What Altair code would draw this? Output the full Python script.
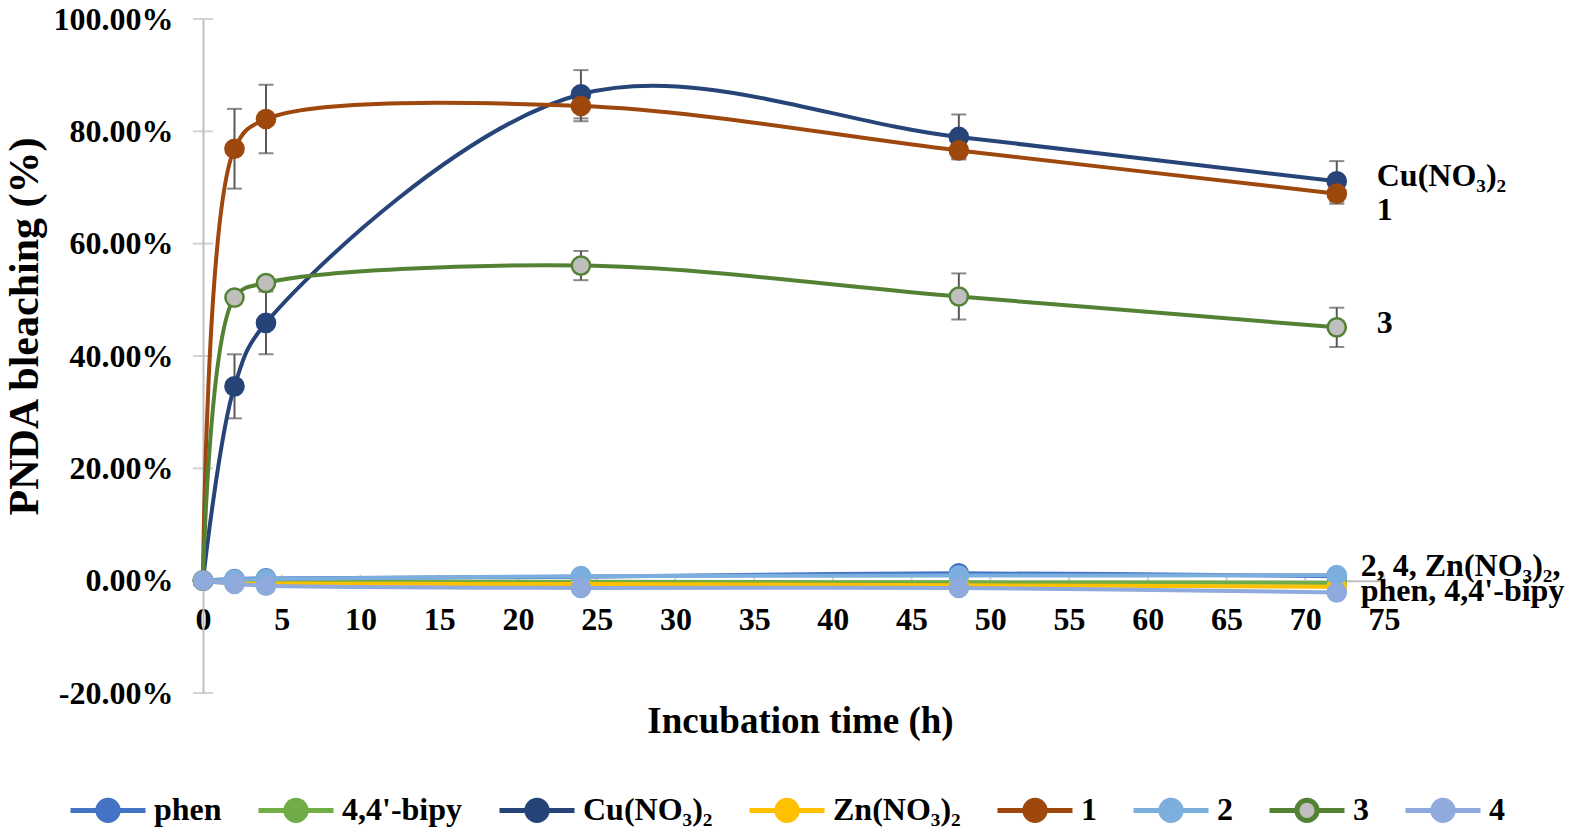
import altair as alt
import pandas as pd

# ---------------- data ----------------
times = [0, 2, 4, 24, 48, 72]
series_names = ["phen", "4,4'-bipy", "Cu(NO₃)₂", "Zn(NO₃)₂", "1", "2", "3", "4"]

phen = [0, 0.3, 0.4, 0.7, 1.3, 0.8]
bipy = [0, 0.0, -0.1, -0.2, -0.3, -0.4]
cu = [0, 34.6, 45.9, 86.6, 79.0, 71.1]
zn = [0, -0.4, -0.5, -0.6, -0.8, -1.1]
c1 = [0, 76.9, 82.2, 84.5, 76.6, 68.9]
c2 = [0, 0.2, 0.3, 0.8, 0.9, 1.0]
c3 = [0, 50.4, 53.0, 56.1, 50.6, 45.1]
c4 = [0, -0.6, -0.9, -1.3, -1.3, -2.1]

cu_err = [0, 5.7, 5.6, 4.3, 4.0, 3.6]
c1_err = [0, 7.1, 6.1, 2.7, 1.4, 1.8]
c3_err = [0, 0.6, 0.6, 2.6, 4.1, 3.5]

line_colors = ["#4472C4", "#70AD47", "#264478", "#FFC000", "#9E480E", "#7CAFDD", "#548235", "#8FAADC"]
fill_colors = ["#4472C4", "#70AD47", "#264478", "#FFC000", "#9E480E", "#7CAFDD", "#BFBFBF", "#8FAADC"]

x_ticks = list(range(0, 80, 5))
y_ticks = [-20, 0, 20, 40, 60, 80, 100]

ann_labels = ["Cu(NO₃)₂", "1", "3"]
ann_y = [72.0, 66.0, 45.8]
ann2_labels = ["2, 4, Zn(NO₃)₂,\nphen, 4,4'-bipy"]
ann2_y = [2.6]

# ---------------- tables ----------------
all_vals = [phen, bipy, cu, zn, c1, c2, c3, c4]
rows = []
for name, vals in zip(series_names, all_vals):
    for t, v in zip(times, vals):
        rows.append({"series": name, "t": t, "v": v})
df = pd.DataFrame(rows)

err_rows = []
for name, vals, errs in [("Cu(NO₃)₂", cu, cu_err), ("1", c1, c1_err), ("3", c3, c3_err)]:
    for t, v, e in zip(times, vals, errs):
        if e > 0:
            err_rows.append({"series": name, "t": t, "lo": v - e, "hi": v + e})
err_df = pd.DataFrame(err_rows)

ytick_df = pd.DataFrame({"t": [0] * len(y_ticks), "v": y_ticks})
xtick_df = pd.DataFrame({"t": [x for x in x_ticks if x > 0], "v": [0] * (len(x_ticks) - 1)})
ann_df = pd.DataFrame({"t": [72] * len(ann_labels), "v": ann_y, "label": ann_labels})
ann2_df = pd.DataFrame({"t": [72] * len(ann2_labels), "v": ann2_y, "label": ann2_labels})

# ---------------- styling ----------------
FONT = "Liberation Serif"
GRAY = "#BFBFBF"
W, H = 1181, 674

X_AXIS = alt.Axis(
    values=x_ticks, grid=False, ticks=False, tickSize=0,
    domainColor=GRAY, domainWidth=2,
    labelFont=FONT, labelFontSize=32, labelFontWeight="bold", labelColor="black",
    labelPadding=24, labelFlush=False, labelOverlap=False,
    offset=-H / 6.0,
    title="Incubation time (h)", titleFont=FONT, titleFontSize=37, titleFontWeight="bold",
    titleColor="black", titleX=597, titleY=152, titleBaseline="alphabetic", titleAlign="center",
)
Y_AXIS = alt.Axis(
    values=y_ticks, grid=False, ticks=False, tickSize=0,
    domainColor=GRAY, domainWidth=2,
    labelExpr="(datum.value < 0 ? '-' : '') + format(abs(datum.value), '.2f') + '%'",
    labelFont=FONT, labelFontSize=32, labelFontWeight="bold", labelColor="black",
    labelPadding=30, labelOverlap=False,
    title="PNDA bleaching (%)", titleFont=FONT, titleFontSize=42, titleFontWeight="bold",
    titleColor="black", titleX=-166, titleY=307, titleBaseline="alphabetic", titleAngle=270,
    titleAlign="center",
)
XS = alt.Scale(domain=[0, 75], nice=False, zero=False)
YS = alt.Scale(domain=[-20, 100], nice=False, zero=False)

SYMBOL = "M-1,0L-0.27,0M0.27,0L1,0M-0.27,0A0.27,0.27 0 1,0 0.27,0A0.27,0.27 0 1,0 -0.27,0Z"
LEG = alt.Legend(
    title=None, orient="none", legendX=-135, legendY=751, direction="horizontal",
    symbolType=SYMBOL, symbolSize=5625, symbolStrokeWidth=5, symbolOpacity=1,
    labelFont=FONT, labelFontSize=32, labelFontWeight="bold", labelColor="black",
    columnPadding=26, labelOffset=6, padding=0, labelLimit=0,
)
STROKE = alt.Stroke("series:N", scale=alt.Scale(domain=series_names, range=line_colors), legend=LEG)
FILL = alt.Fill("series:N", scale=alt.Scale(domain=series_names, range=fill_colors), legend=LEG)


def xenc(field="t"):
    return alt.X(f"{field}:Q", scale=XS, axis=X_AXIS)


def yenc(field="v"):
    return alt.Y(f"{field}:Q", scale=YS, axis=Y_AXIS)


layers = []

# axis decoration ticks (crossing ticks like the original)
layers.append(
    alt.Chart(ytick_df).mark_tick(orient="horizontal", size=20, thickness=2, color=GRAY)
    .encode(x=xenc(), y=yenc())
)
layers.append(
    alt.Chart(xtick_df).mark_tick(orient="vertical", size=12, thickness=2, color=GRAY)
    .encode(x=xenc(), y=yenc())
)

# error bars
layers.append(
    alt.Chart(err_df).mark_rule(color="#595959", strokeWidth=2)
    .encode(x=xenc(), y=yenc("lo"), y2="hi:Q")
)
layers.append(
    alt.Chart(err_df).mark_tick(orient="horizontal", size=15, thickness=2, color="#595959")
    .encode(x=xenc(), y=yenc("lo"))
)
layers.append(
    alt.Chart(err_df).mark_tick(orient="horizontal", size=15, thickness=2, color="#595959")
    .encode(x=xenc(), y=yenc("hi"))
)

# series: line then markers, in the original drawing order
for name in series_names:
    sub = alt.Chart(df).transform_filter(alt.datum.series == name)
    layers.append(
        sub.mark_line(interpolate="catmull-rom", strokeWidth=4, strokeCap="round")
        .encode(x=xenc(), y=yenc(), stroke=STROKE)
    )
    layers.append(
        sub.mark_point(filled=True, shape="circle", size=330, strokeWidth=2.5, opacity=1)
        .encode(x=xenc(), y=yenc(), stroke=STROKE, fill=FILL)
    )

# right-side labels
layers.append(
    alt.Chart(ann_df).mark_text(align="left", baseline="middle", font=FONT, fontSize=32,
                                fontWeight="bold", color="black", dx=40)
    .encode(x=xenc(), y=yenc(), text="label:N")
)
layers.append(
    alt.Chart(ann2_df).mark_text(align="left", baseline="middle", font=FONT, fontSize=32,
                                 fontWeight="bold", color="black", dx=24,
                                 lineBreak="\n", lineHeight=25)
    .encode(x=xenc(), y=yenc(), text="label:N")
)

chart = alt.layer(*layers).properties(
    width=W, height=H,
    autosize=alt.AutoSizeParams(type="none"),
    padding={"left": 195, "top": 11, "right": 201, "bottom": 135},
).configure(font=FONT).configure_view(stroke=None)

chart.save("out.html", embed_options={"renderer": "svg", "actions": False})
